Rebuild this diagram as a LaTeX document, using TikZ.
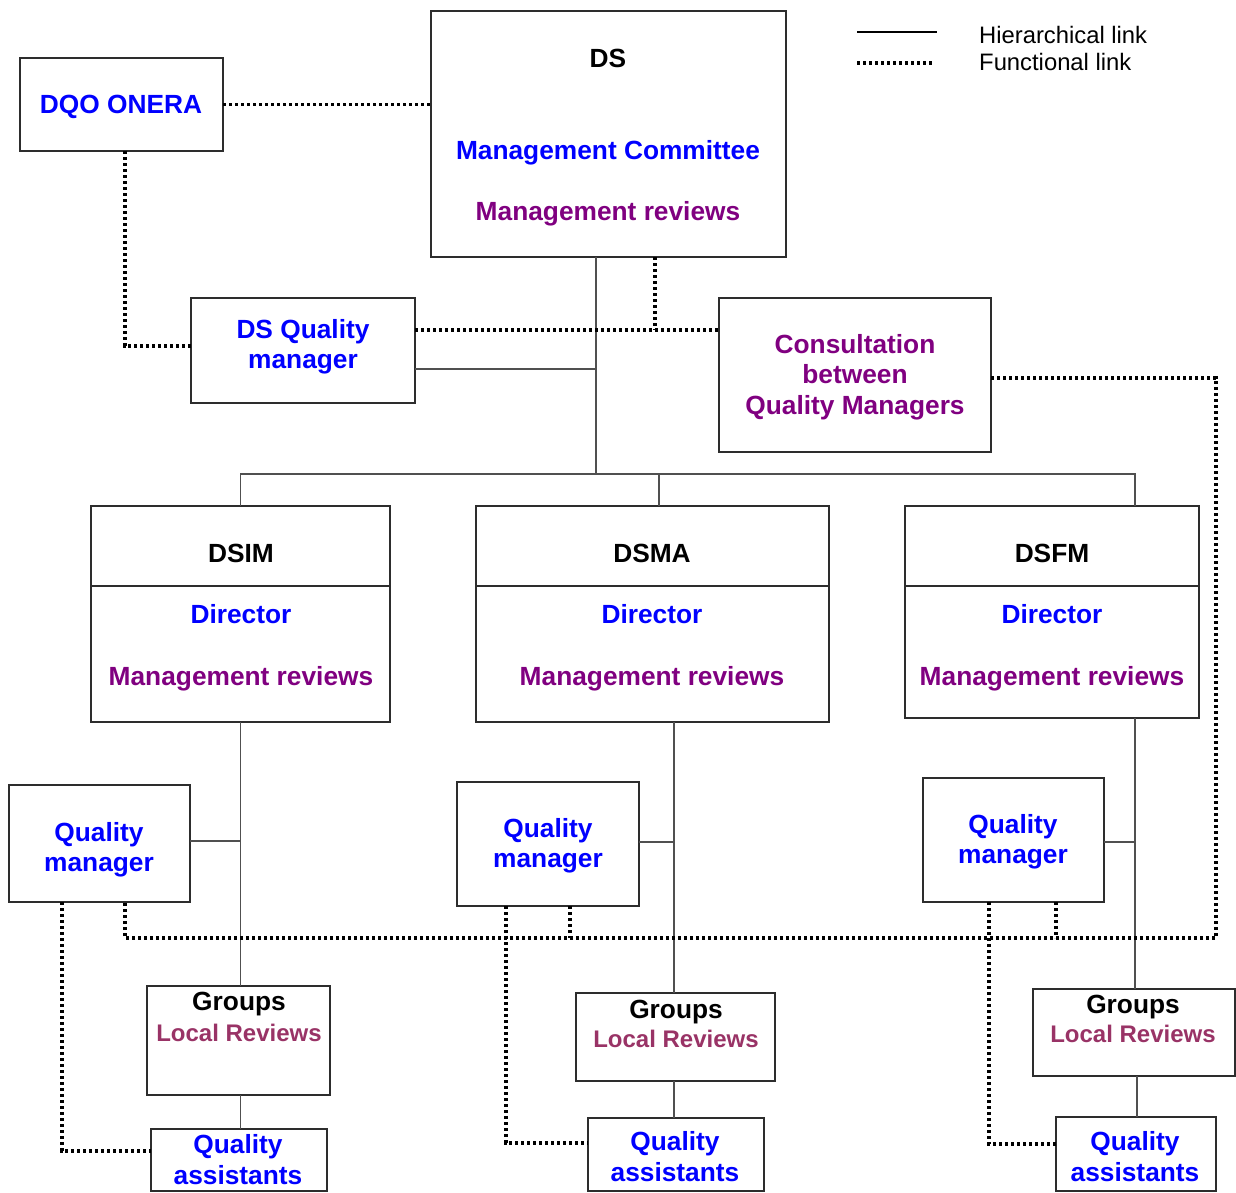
\documentclass[tikz,border=0pt]{standalone}
\usepackage{fontspec}
\setmainfont{Liberation Sans}
\definecolor{qblue}{RGB}{0,0,255}
\definecolor{qpurple}{RGB}{128,0,128}
\definecolor{qlocal}{RGB}{153,51,102}
\definecolor{boxline}{RGB}{45,45,45}
\definecolor{hierline}{RGB}{80,80,80}
\tikzset{
  box/.style={draw=boxline, line width=1.5pt, inner sep=0pt, outer sep=0pt, anchor=north west},
  txt/.style={anchor=base, inner sep=0pt, font=\fontsize{26.3}{30}\selectfont\bfseries},
  blk/.style={txt, text=black},
  blu/.style={txt, text=qblue},
  pur/.style={txt, text=qpurple},
  loc/.style={anchor=base, inner sep=0pt, text=qlocal, font=\fontsize{24}{28}\selectfont\bfseries},
  leg/.style={anchor=base west, inner sep=0pt, font=\fontsize{23.8}{27}\selectfont},
  hier/.style={draw=hierline, line width=1.2pt},
  func/.style={draw=black, line width=3.6pt, dash pattern=on 3.4pt off 2.6pt}
}
\begin{document}
\begin{tikzpicture}[x=1pt,y=-1pt]
\useasboundingbox (0,0) rectangle (1236,1192);

% ---- boxes ----
\node[box, minimum width=203pt, minimum height=93pt]  (dqo)  at (20,58) {};
\node[box, minimum width=355pt, minimum height=246pt] (ds)   at (431,11) {};
\node[box, minimum width=224pt, minimum height=105pt] (dsqm) at (191,298) {};
\node[box, minimum width=272pt, minimum height=154pt] (cons) at (719,298) {};
\node[box, minimum width=299pt, minimum height=216pt] (dsim) at (91,506) {};
\node[box, minimum width=353pt, minimum height=216pt] (dsma) at (476,506) {};
\node[box, minimum width=294pt, minimum height=212pt] (dsfm) at (905,506) {};
\node[box, minimum width=181pt, minimum height=117pt] (qm1)  at (9,785) {};
\node[box, minimum width=182pt, minimum height=124pt] (qm2)  at (457,782) {};
\node[box, minimum width=181pt, minimum height=124pt] (qm3)  at (923,778) {};
\node[box, minimum width=183pt, minimum height=109pt] (grp1) at (147,986) {};
\node[box, minimum width=199pt, minimum height=88pt]  (grp2) at (576,993) {};
\node[box, minimum width=202pt, minimum height=87pt]  (grp3) at (1033,989) {};
\node[box, minimum width=176pt, minimum height=62pt]  (qa1)  at (151,1129) {};
\node[box, minimum width=176pt, minimum height=73pt]  (qa2)  at (588,1118) {};
\node[box, minimum width=160pt, minimum height=74pt]  (qa3)  at (1056,1117) {};

% header separators of the three departments
\coordinate (sep) at (0,586);
\draw[draw=boxline, line width=1.2pt] (dsim.west |- sep) -- (dsim.east |- sep);
\draw[draw=boxline, line width=1.2pt] (dsma.west |- sep) -- (dsma.east |- sep);
\draw[draw=boxline, line width=1.2pt] (dsfm.west |- sep) -- (dsfm.east |- sep);

% ---- texts ----
\node[blu] (t-dqo) at (121,113) {DQO ONERA};
\node[blk] (t-ds1) at (608,67) {DS};
\node[blu] (t-ds2) at (608,159) {Management Committee};
\node[pur] (t-ds3) at (608,220) {Management reviews};
\node[blu] (t-dq1) at (303,338) {DS Quality};
\node[blu] (t-dq2) at (303,368) {manager};
\node[pur] (t-c1) at (855,353) {Consultation};
\node[pur] (t-c2) at (855,383) {between};
\node[pur] (t-c3) at (855,414) {Quality Managers};

\node[blk] (t-im1) at (241,562) {DSIM};
\node[blu] (t-im2) at (241,623) {Director};
\node[pur] (t-im3) at (241,685) {Management reviews};
\node[blk] (t-ma1) at (652,562) {DSMA};
\node[blu] (t-ma2) at (652,623) {Director};
\node[pur] (t-ma3) at (652,685) {Management reviews};
\node[blk] (t-fm1) at (1052,562) {DSFM};
\node[blu] (t-fm2) at (1052,623) {Director};
\node[pur] (t-fm3) at (1052,685) {Management reviews};

\node[blu] (t-q1a) at (99,841) {Quality};
\node[blu] (t-q1b) at (99,871) {manager};
\node[blu] (t-q2a) at (548,837) {Quality};
\node[blu] (t-q2b) at (548,867) {manager};
\node[blu] (t-q3a) at (1013,833) {Quality};
\node[blu] (t-q3b) at (1013,863) {manager};

\node[blk] (t-g1a) at (239,1010) {Groups};
\node[loc] (t-g1b) at (239,1041) {Local Reviews};
\node[blk] (t-g2a) at (676,1018) {Groups};
\node[loc] (t-g2b) at (676,1047) {Local Reviews};
\node[blk] (t-g3a) at (1133,1013) {Groups};
\node[loc] (t-g3b) at (1133,1042) {Local Reviews};

\node[blu] (t-a1a) at (238,1153) {Quality};
\node[blu] (t-a1b) at (238,1184) {assistants};
\node[blu] (t-a2a) at (675,1150) {Quality};
\node[blu] (t-a2b) at (675,1181) {assistants};
\node[blu] (t-a3a) at (1135,1150) {Quality};
\node[blu] (t-a3b) at (1135,1181) {assistants};

% ---- legend ----
\coordinate (lg1) at (857,32);  \coordinate (lg1e) at (937,32);
\coordinate (lg2) at (857,63);  \coordinate (lg2e) at (933,63);
\draw[draw=black, line width=1.3pt] (lg1) -- (lg1e);
\draw[func] (lg2) -- (lg2e);
\node[leg] (t-lg1) at (979,43) {Hierarchical link};
\node[leg] (t-lg2) at (979,70) {Functional link};

% ---- hierarchical links ----
\coordinate (bus) at (596,474);
\coordinate (qmjoin) at (596,369);
\coordinate (dmaTop) at (659,506);
\coordinate (dfmTop) at (1135,506);
\draw[hier] (ds.south -| bus) -- (bus);
\draw[hier] (qmjoin -| dsqm.east) -- (qmjoin);
\draw[hier] (dsim.north) |- (bus) -| (dfmTop);
\draw[hier] (dmaTop) -- (dmaTop |- bus);

\coordinate (j1) at (240.5,841);
\draw[hier] (dsim.south) -- (grp1.north -| j1);
\draw[hier] (j1 -| qm1.east) -- (j1);
\draw[hier] (grp1.south -| j1) -- (qa1.north -| j1);

\coordinate (j2) at (674,842);
\draw[hier] (dsma.south -| j2) -- (grp2.north -| j2);
\draw[hier] (j2 -| qm2.east) -- (j2);
\draw[hier] (grp2.south -| j2) -- (qa2.north -| j2);

\coordinate (j3) at (1135,842);
\coordinate (j3b) at (1137,1100);
\draw[hier] (dsfm.south -| j3) -- (grp3.north -| j3);
\draw[hier] (j3 -| qm3.east) -- (j3);
\draw[hier] (grp3.south -| j3b) -- (qa3.north -| j3b);

% ---- functional links ----
\draw[func] (dqo.east) -- (dqo.east -| ds.west);
\coordinate (f1) at (125,346);
\draw[func] (dqo.south -| f1) -- (f1) -- (f1 -| dsqm.west);
\coordinate (f2) at (655,330);
\draw[func] (f2 -| dsqm.east) -- (f2 -| cons.west);
\draw[func] (ds.south -| f2) -- (f2);
\coordinate (f3) at (1216,378);
\coordinate (bot) at (125,938);
\draw[func] (f3 -| cons.east) -- (f3) |- (bot) -- (qm1.south -| bot);
\coordinate (q2f) at (570,938);
\draw[func] (qm2.south -| q2f) -- (q2f);
\coordinate (q3f) at (1056,938);
\draw[func] (qm3.south -| q3f) -- (q3f);
\coordinate (a1) at (62,1151);
\draw[func] (qm1.south -| a1) -- (a1) -- (a1 -| qa1.west);
\coordinate (a2) at (506,1143);
\draw[func] (qm2.south -| a2) -- (a2) -- (a2 -| qa2.west);
\coordinate (a3) at (989,1144);
\draw[func] (qm3.south -| a3) -- (a3) -- (a3 -| qa3.west);
\end{tikzpicture}
\end{document}
